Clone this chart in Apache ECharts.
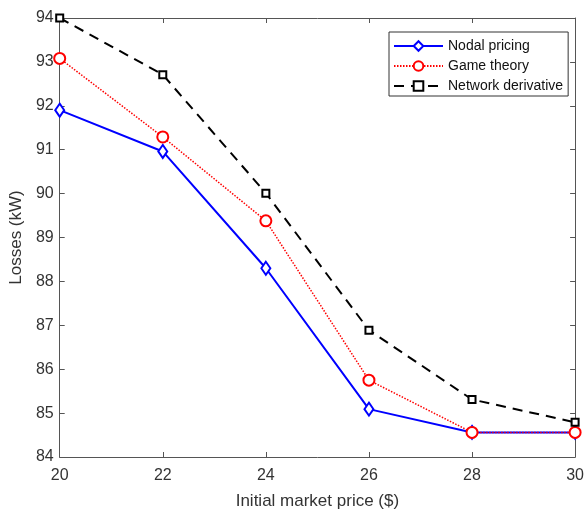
<!DOCTYPE html>
<html>
<head>
<meta charset="utf-8">
<script src="https://cdn.jsdelivr.net/npm/echarts@6/dist/echarts.min.js"></script>
<style>html,body{margin:0;padding:0;background:#fff}#c{width:587px;height:515px}</style>
</head>
<body>
<div id="c"></div>
<script>
var prices = [20, 22, 24, 26, 28, 30];
var nodalPricing = [91.90, 90.96, 88.30, 85.09, 84.56, 84.56];
var gameTheory = [93.08, 91.29, 89.38, 85.75, 84.56, 84.56];
var networkDerivative = [94.00, 92.71, 90.01, 86.89, 85.31, 84.79];
var seriesNames = ['Nodal pricing', 'Game theory', 'Network derivative'];

function pairs(vals) { return prices.map(function (p, i) { return [p, vals[i]]; }); }

var font = 'Liberation Sans, Arial, Helvetica, sans-serif';
var axisCol = '#555';
var txtCol = '#333';

var chart = echarts.init(document.getElementById('c'), null, {renderer: 'canvas'});
chart.setOption({
  animation: false,
  backgroundColor: '#fff',
  grid: {left: 59, right: 5, top: 18, bottom: 56, containLabel: false},
  legend: {
    orient: 'vertical', left: 389, top: 32,
    data: seriesNames,
    itemWidth: 49, itemHeight: 12, itemGap: 6,
    padding: [7, 5, 3, 4],
    borderColor: '#333', borderWidth: 1, backgroundColor: '#fff',
    textStyle: {fontFamily: font, fontSize: 14, color: '#111'}
  },
  xAxis: [{
    type: 'value', min: 20, max: 30, interval: 2,
    name: 'Initial market price ($)', nameLocation: 'middle', nameGap: 36,
    nameTextStyle: {fontFamily: font, fontSize: 17, color: txtCol},
    axisLine: {lineStyle: {color: axisCol, width: 1}},
    axisTick: {inside: true, length: 5, lineStyle: {color: axisCol}},
    axisLabel: {fontFamily: font, fontSize: 16, color: txtCol, margin: 11},
    splitLine: {show: false}
  }, {
    type: 'value', min: 20, max: 30, interval: 2, position: 'top',
    axisLine: {show: true, lineStyle: {color: axisCol, width: 1}},
    axisTick: {show: true, inside: true, length: 5, lineStyle: {color: axisCol}},
    axisLabel: {show: false}, splitLine: {show: false}
  }],
  yAxis: [{
    type: 'value', min: 84, max: 94, interval: 1,
    name: 'Losses (kW)', nameLocation: 'middle', nameGap: 31,
    nameTextStyle: {fontFamily: font, fontSize: 17, color: txtCol},
    axisLine: {show: true, lineStyle: {color: axisCol, width: 1}},
    axisTick: {show: true, inside: true, length: 5, lineStyle: {color: axisCol}},
    axisLabel: {fontFamily: font, fontSize: 16, color: txtCol, margin: 6},
    splitLine: {show: false}
  }, {
    type: 'value', min: 84, max: 94, interval: 1, position: 'right',
    axisLine: {show: true, lineStyle: {color: axisCol, width: 1}},
    axisTick: {show: true, inside: true, length: 5, lineStyle: {color: axisCol}},
    axisLabel: {show: false}, splitLine: {show: false}
  }],
  series: [{
    name: seriesNames[0], type: 'line', data: pairs(nodalPricing),
    symbol: 'emptyDiamond', symbolSize: [9, 13], clip: false,
    color: '#0000ff',
    lineStyle: {color: '#0000ff', width: 2, type: 'solid'},
    itemStyle: {color: '#0000ff', borderWidth: 2}
  }, {
    name: seriesNames[1], type: 'line', data: pairs(gameTheory),
    symbol: 'emptyCircle', symbolSize: 11, clip: false,
    color: '#ff0000',
    lineStyle: {color: '#ff0000', width: 1.5, type: [1.5, 1.5]},
    itemStyle: {color: '#ff0000', borderWidth: 2}
  }, {
    name: seriesNames[2], type: 'line', data: pairs(networkDerivative),
    symbol: 'emptyRect', symbolSize: 7, clip: false,
    color: '#000000',
    lineStyle: {color: '#000000', width: 2, type: [10, 7]},
    itemStyle: {color: '#000000', borderWidth: 2}
  }]
});
</script>
</body>
</html>
